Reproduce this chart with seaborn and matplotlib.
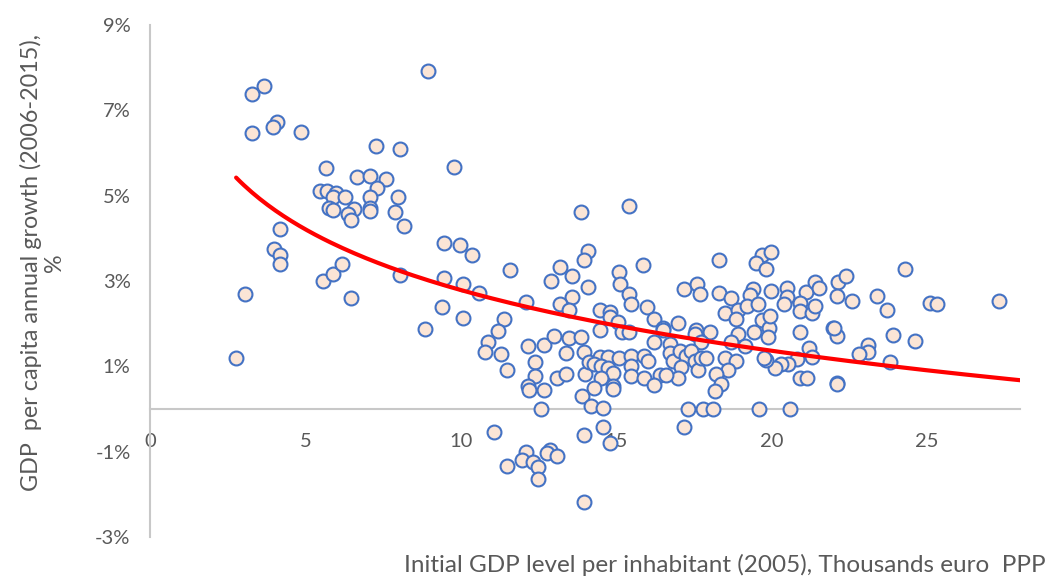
import numpy as np
import pandas as pd
import matplotlib
matplotlib.use("Agg")
import matplotlib.pyplot as plt
import seaborn as sns

# Initial GDP per inhabitant in 2005 (thousand euro, PPP)
gdp_level = [
    3.28, 3.67, 3.27, 4.07, 3.97, 4.87, 8.94, 7.28, 8.06, 5.67,
    6.67, 7.09, 7.58, 7.29, 5.46, 5.68, 5.99, 5.89, 6.28, 7.07,
    7.98, 5.77, 5.89, 6.56, 6.37, 6.47, 7.07, 7.07, 7.88, 8.18,
    4.17, 3.98, 4.19, 4.17, 3.06, 2.77, 5.58, 5.88, 6.17, 6.47,
    8.06, 8.86, 9.77, 13.88, 15.40, 9.47, 9.98, 10.37, 14.08, 13.98,
    13.18, 15.88, 11.58, 15.10, 13.59, 12.89, 15.11, 14.08, 9.47, 10.07,
    10.59, 15.41, 13.59, 15.47, 12.09, 13.18, 13.49, 14.49, 14.81, 14.81,
    16.01, 9.39, 10.07, 11.39, 11.19, 14.49, 15.05, 15.18, 15.42, 10.89,
    10.78, 11.28, 12.18, 12.69, 12.99, 13.47, 13.88, 13.40, 13.98, 12.39,
    11.48, 12.39, 13.09, 13.40, 12.17, 12.19, 12.69, 13.99, 14.14, 14.49,
    14.73, 15.10, 15.49, 15.89, 14.30, 14.52, 14.73, 14.89, 15.48, 15.48,
    15.89, 14.52, 14.89, 14.89, 14.28, 13.89, 14.19, 14.59, 12.59, 11.08,
    13.98, 14.59, 14.79, 12.09, 12.88, 12.77, 13.10, 11.98, 12.31, 11.48,
    12.49, 12.47, 13.98, 18.30, 19.69, 20.00, 19.50, 19.81, 17.18, 17.60,
    17.71, 18.30, 18.69, 19.40, 19.30, 20.00, 20.51, 20.51, 21.11, 21.40,
    21.54, 22.15, 22.10, 18.49, 18.93, 18.87, 19.21, 19.57, 19.70, 19.91,
    19.95, 19.89, 19.44, 20.41, 20.91, 20.91, 21.31, 21.40, 21.99, 20.91,
    22.10, 21.21, 21.31, 20.81, 20.54, 20.32, 20.11, 19.81, 19.76, 20.91,
    21.13, 22.10, 16.21, 16.50, 16.50, 16.99, 17.58, 17.53, 18.01, 17.74,
    18.93, 18.71, 19.14, 16.21, 16.02, 16.72, 16.72, 16.83, 17.04, 17.26,
    17.42, 17.53, 17.63, 17.74, 17.90, 17.10, 16.99, 16.40, 16.61, 16.21,
    18.49, 18.87, 18.60, 18.23, 18.39, 18.19, 17.30, 17.80, 18.12, 19.59,
    20.60, 17.20, 24.30, 22.40, 22.58, 23.41, 25.11, 25.32, 27.31, 23.71,
    22.01, 23.12, 23.12, 22.82, 23.90, 24.61, 23.81, 22.11,
]

# Average annual growth of GDP per capita 2006-2015 (%)
gdp_growth = [
    7.39, 7.58, 6.46, 6.73, 6.61, 6.50, 7.93, 6.16, 6.10, 5.66,
    5.43, 5.46, 5.39, 5.18, 5.12, 5.10, 5.06, 4.96, 4.96, 4.98,
    4.97, 4.72, 4.67, 4.69, 4.58, 4.44, 4.72, 4.63, 4.61, 4.28,
    4.22, 3.76, 3.61, 3.41, 2.69, 1.20, 3.00, 3.16, 3.40, 2.59,
    3.15, 1.87, 5.68, 4.61, 4.75, 3.88, 3.84, 3.60, 3.70, 3.50,
    3.33, 3.37, 3.26, 3.22, 3.11, 2.99, 2.93, 2.87, 3.06, 2.93,
    2.72, 2.69, 2.62, 2.45, 2.51, 2.47, 2.31, 2.33, 2.27, 2.15,
    2.39, 2.39, 2.13, 2.10, 1.83, 1.84, 2.03, 1.80, 1.80, 1.58,
    1.33, 1.29, 1.47, 1.50, 1.70, 1.66, 1.68, 1.31, 1.33, 1.09,
    0.91, 0.77, 0.73, 0.81, 0.55, 0.44, 0.44, 0.81, 1.09, 1.22,
    1.22, 1.19, 1.24, 1.24, 1.05, 1.01, 0.97, 0.85, 1.01, 0.77,
    0.73, 0.73, 0.55, 0.46, 0.50, 0.30, 0.07, 0.02, 0.00, -0.53,
    -0.62, -0.43, -0.80, -1.00, -0.96, -1.04, -1.10, -1.20, -1.24, -1.33,
    -1.37, -1.63, -2.19, 3.50, 3.61, 3.68, 3.43, 3.29, 2.81, 2.94,
    2.69, 2.72, 2.59, 2.82, 2.67, 2.76, 2.83, 2.62, 2.75, 2.97,
    2.84, 2.97, 2.65, 2.24, 2.31, 2.10, 2.41, 2.45, 2.08, 1.91,
    2.18, 1.68, 1.80, 2.45, 2.49, 2.30, 2.24, 2.41, 1.91, 1.80,
    1.71, 1.44, 1.22, 1.16, 1.05, 1.06, 0.95, 1.14, 1.19, 0.72,
    0.72, 0.60, 2.10, 1.91, 1.85, 2.01, 1.84, 1.75, 1.80, 1.56,
    1.75, 1.56, 1.48, 1.56, 1.12, 1.52, 1.32, 1.12, 1.36, 1.24,
    1.36, 1.12, 0.92, 1.20, 1.20, 0.98, 0.72, 0.80, 0.80, 0.56,
    1.20, 1.12, 0.91, 0.81, 0.59, 0.41, 0.00, 0.00, 0.00, 0.00,
    0.00, -0.43, 3.27, 3.12, 2.53, 2.65, 2.49, 2.45, 2.53, 2.32,
    1.89, 1.50, 1.33, 1.30, 1.73, 1.60, 1.10, 0.59,
]

x_ticks = [0, 5, 10, 15, 20, 25]
y_ticks = [-3, -1, 1, 3, 5, 7, 9]
y_tick_labels = ["-3%", "-1%", "1%", "3%", "5%", "7%", "9%"]

df = pd.DataFrame({"level": gdp_level, "growth": gdp_growth})

# Logarithmic trend: growth = a + b * ln(level)
b, a = np.polyfit(np.log(df["level"]), df["growth"], 1)
trend_x = np.linspace(df["level"].min(), 28, 200)
trend = pd.DataFrame({"level": trend_x, "growth": a + b * np.log(trend_x)})

sns.set_theme(style="white")
plt.rcParams["font.family"] = ["Lato", "DejaVu Sans"]

fig = plt.figure(figsize=(10.53, 5.83), dpi=100)
ax = fig.add_axes([0.1425, 0.079, 0.8262, 0.878])

sns.scatterplot(data=df, x="level", y="growth", ax=ax, s=100,
                color="#FBE5D6", edgecolor="#4472C4", linewidth=1.5,
                zorder=3, legend=False)
sns.lineplot(data=trend, x="level", y="growth", ax=ax, color="#FF0000",
             linewidth=3, zorder=4, legend=False)

ax.set_xlim(0, 28)
ax.set_ylim(-3, 9)
ax.set_xticks(x_ticks)
ax.set_xticklabels([str(t) for t in x_ticks])
ax.set_yticks(y_ticks)
ax.set_yticklabels(y_tick_labels)

for side in ("top", "right"):
    ax.spines[side].set_visible(False)
ax.spines["bottom"].set_position(("data", 0))
for side in ("left", "bottom"):
    ax.spines[side].set_color("#C8C8C8")
    ax.spines[side].set_linewidth(1.5)

ax.tick_params(axis="both", length=0, labelsize=14.5, colors="#595959")
ax.tick_params(axis="y", pad=14)
ax.tick_params(axis="x", pad=17)

ax.set_xlabel("")
ax.set_ylabel("")
fig.text(0.993, 0.012, "Initial GDP level per inhabitant (2005), Thousands euro  PPP",
         ha="right", va="bottom", fontsize=17.5, color="#595959")
fig.text(0.040, 0.55, "GDP  per capita annual growth (2006-2015),\n%",
         ha="center", va="center", rotation=90, fontsize=16.8,
         color="#595959", linespacing=1.1)

fig.savefig("out.png", dpi=100)
